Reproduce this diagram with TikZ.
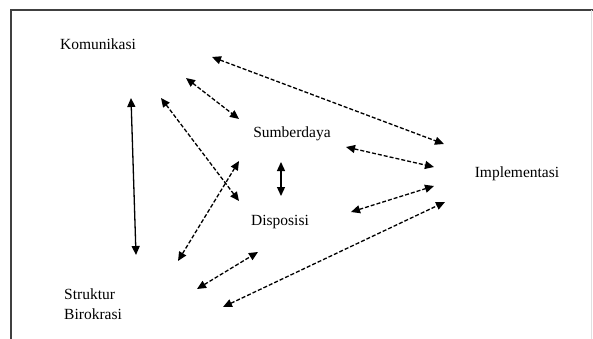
\documentclass[tikz,border=0pt]{standalone}
\usepackage{fontspec}
\setmainfont{Liberation Serif}
\usetikzlibrary{arrows.meta}
\tikzset{
  lbl/.style={inner sep=0pt, font=\fontsize{15.5}{19.5}\selectfont, text=black},
  conn/.style={line width=1.3pt, {Triangle[length=9pt,width=8pt]}-{Triangle[length=9pt,width=8pt]}},
  dconn/.style={conn, dash pattern=on 4pt off 2pt},
  frame/.style={line width=2pt, draw=black!75}
}
\begin{document}
\begin{tikzpicture}[x=1pt,y=-1pt]
\useasboundingbox (0,0) rectangle (593,339);
\draw[frame] (11,339) -- (11,10) -- (593,10);
\draw[line width=0.6pt, draw=black!12] (591,10) -- (591,339);

\node[lbl] (kom) at (98,44) {Komunikasi};
\node[lbl] (sum) at (292,134) {Sumberdaya};
\node[lbl] (dis) at (280,222) {Disposisi};
\node[lbl] (imp) at (517,174) {Implementasi};
\node[lbl, align=left, anchor=west] (str) at (64,304) {Struktur\\Birokrasi};

\coordinate (a1) at (212,57);  \coordinate (b1) at (444,144);
\coordinate (a2) at (186,78);  \coordinate (b2) at (239,119);
\coordinate (a3) at (131,98);  \coordinate (b3) at (136,255);
\coordinate (a4) at (161,98);  \coordinate (b4) at (239,201);
\coordinate (a5) at (178,261); \coordinate (b5) at (239,161);
\coordinate (a6) at (281,162); \coordinate (b6) at (281,196);
\coordinate (a7) at (197,289); \coordinate (b7) at (258,252);
\coordinate (a8) at (346,147); \coordinate (b8) at (434,167);
\coordinate (a9) at (351,212); \coordinate (b9) at (434,186);
\coordinate (a10) at (223,307); \coordinate (b10) at (445,202);

\draw[dconn] (a1) -- (b1);
\draw[dconn] (a2) -- (b2);
\draw[conn] (a3) -- (b3);
\draw[dconn] (a4) -- (b4);
\draw[dconn] (a5) -- (b5);
\draw[conn] (a6) -- (b6);
\draw[dconn] (a7) -- (b7);
\draw[dconn] (a8) -- (b8);
\draw[dconn] (a9) -- (b9);
\draw[dconn] (a10) -- (b10);
\end{tikzpicture}
\end{document}
